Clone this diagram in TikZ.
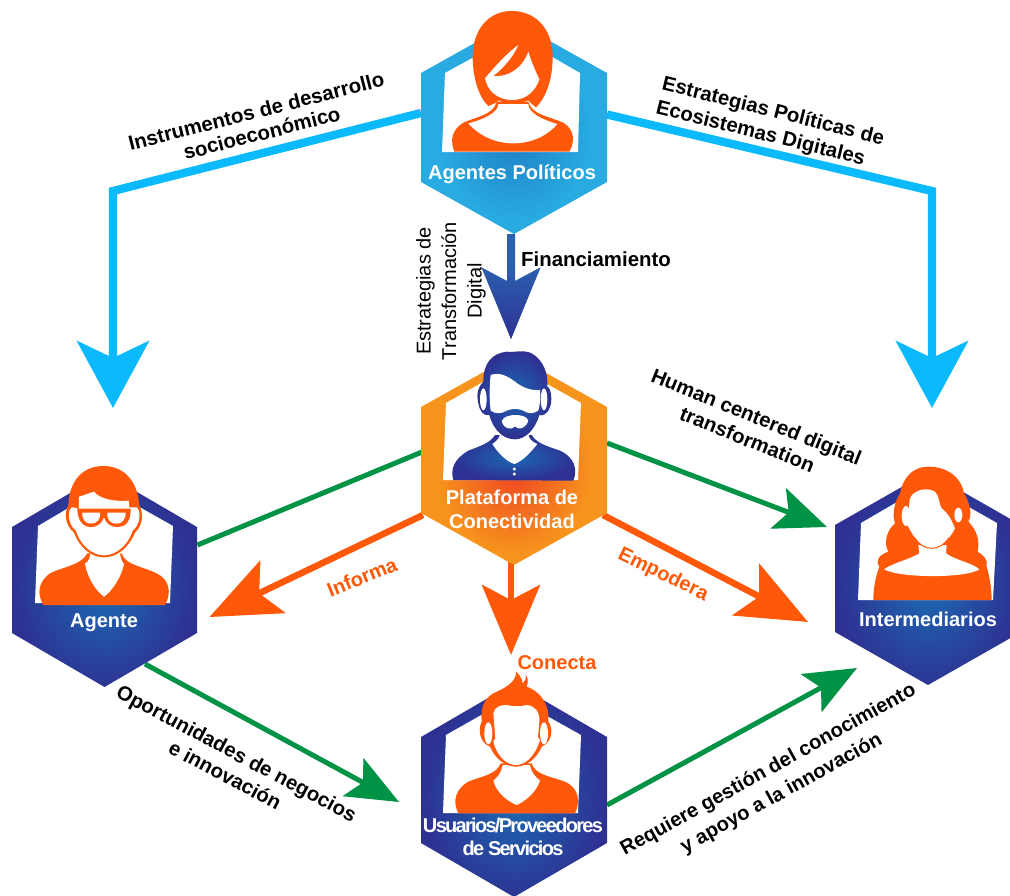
\documentclass[tikz,border=0pt]{standalone}
\usepackage{fontspec}
\setmainfont{Liberation Sans}
\usetikzlibrary{arrows.meta}
\definecolor{cyanline}{HTML}{0ABAFD}
\definecolor{orangeline}{HTML}{FF5808}
\definecolor{greenline}{HTML}{009245}
\definecolor{navyE}{HTML}{2E3192}
\definecolor{navyC}{HTML}{1C68B0}
\definecolor{skyE}{HTML}{29ABE2}
\definecolor{skyC}{HTML}{1E7FC2}
\definecolor{ambE}{HTML}{F7941D}
\definecolor{ambC}{HTML}{EF4523}
\definecolor{midblue}{HTML}{2B62B0}
\pgfdeclareradialshading{navyrad}{\pgfpoint{0bp}{-3bp}}{color(0bp)=(navyC); color(25bp)=(navyE); color(50bp)=(navyE)}
\pgfdeclareradialshading{skyrad}{\pgfpoint{0bp}{-2bp}}{color(0bp)=(skyC); color(21bp)=(skyE); color(50bp)=(skyE)}
\pgfdeclareradialshading{amberrad}{\pgfpoint{0bp}{-2.5bp}}{color(0bp)=(ambC); color(21bp)=(ambE); color(50bp)=(ambE)}
\pgfdeclareradialshading{manrad}{\pgfpoint{0bp}{0bp}}{color(0bp)=(navyC); color(24bp)=(navyE); color(50bp)=(navyE)}
\pgfdeclareverticalshading{downblue}{100bp}{color(0bp)=(navyE); color(25bp)=(navyE); color(62bp)=(midblue); color(100bp)=(midblue)}
\tikzset{
  hexbox/.style={inner sep=0pt,outer sep=0pt,minimum width=186pt},
  bigblue/.style={line width=8.3pt,cyanline,line join=miter,-{Stealth[length=67pt,width=72pt,inset=17pt]}},
  midorange/.style={line width=6.5pt,orangeline,-{Stealth[length=70pt,width=58pt,inset=15pt]}},
  thingreen/.style={line width=5pt,greenline,-{Stealth[length=52pt,width=43pt,inset=11pt]}},
  plaingreen/.style={line width=5pt,greenline},
  labelblack/.style={font=\fontsize{20.3}{24.5}\selectfont\bfseries,text=black,inner sep=0pt,align=center},
  labelthin/.style={font=\fontsize{20}{25.5}\selectfont,text=black,inner sep=0pt,align=center},
  labelorange/.style={font=\fontsize{20}{24}\selectfont\bfseries,text=orangeline,inner sep=0pt},
  labelwhite/.style={font=\fontsize{20}{24.5}\selectfont\bfseries,text=white,inner sep=0pt,align=center},
  figure/.style={x=0.33333pt,y=-0.33333pt},
}
\begin{document}
\begin{tikzpicture}[x=1pt,y=-1pt]
\useasboundingbox (0,0) rectangle (1010,895);
% invisible frames of the hexagons
\node[hexbox,minimum height=213pt] (pol) at (514,127.5) {};
\node[hexbox,minimum height=210pt] (plat) at (514,460) {};
\node[hexbox,minimum height=214pt] (agente) at (104.5,580) {};
\node[hexbox,minimum height=213pt] (inter) at (928,578.5) {};
\node[hexbox,minimum height=214pt] (usu) at (514,790) {};
\coordinate (cornerL) at (113,191);
\coordinate (cornerR) at (932,191);
% connectors
\draw[bigblue] ([shift={(0,-14.5)}]pol.west) -- (cornerL) -- ([shift={(8.5,-65)}]agente.north);
\draw[bigblue] ([shift={(0,-13)}]pol.east) -- (cornerR) -- ([shift={(4,-64)}]inter.north);
\draw[midblue,line width=7.5pt,-{Stealth[length=71pt,width=58pt,inset=15pt]}] ([shift={(-3,0)}]pol.south) -- ([shift={(-3,-16)}]plat.north);
\shade[shading=downblue] (482,268) -- (507,283) -- (507,234) -- (515,234) -- (515,283) -- (540,268) -- (511,339) -- cycle;
\draw[plaingreen] ([shift={(1,-8)}]plat.west) -- ([shift={(0,-35)}]agente.east);
\draw[midorange] ([shift={(2,55)}]plat.west) -- ([shift={(12,37)}]agente.east);
\draw[thingreen] ([shift={(0,-17)}]plat.east) -- ([shift={(-8,-51.5)}]inter.west);
\draw[midorange] ([shift={(-4,55)}]plat.east) -- ([shift={(-27,43.5)}]inter.west);
\draw[midorange] ([shift={(-3,-10)}]plat.south) -- ([shift={(-3,-28)}]usu.north);
\draw[thingreen] ([shift={(40.5,-23)}]agente.south) -- ([shift={(-22,12)}]usu.west);
\draw[thingreen] ([shift={(0,15)}]usu.east) -- ([shift={(-71,-17)}]inter.south);
% hexagon plates and windows
\shade[shading=skyrad] (421,73) -- (514,21) -- (607,73) -- (607,182) -- (514,234) -- (421,182) -- cycle;
\fill[white] (445,73) -- (514,35) -- (580,73) -- (578,152) -- (442,152) -- cycle;
\shade[shading=amberrad] (421,407) -- (514,355) -- (607,407) -- (607,513) -- (514,565) -- (421,513) -- cycle;
\fill[white] (446,403) -- (513,365) -- (581,403) -- (578,480) -- (443,480) -- cycle;
\shade[shading=navyrad] (12,527) -- (104.5,473) -- (197,527) -- (197,633) -- (104.5,687) -- (12,633) -- cycle;
\fill[white] (38,526) -- (104,487) -- (173,526) -- (170,603) -- (35,603) -- cycle;
\shade[shading=navyrad] (835,525) -- (928,472) -- (1021,525) -- (1021,632) -- (928,685) -- (835,632) -- cycle;
\fill[white] (861,523) -- (928,484) -- (997,523) -- (993,600) -- (858,600) -- cycle;
\shade[shading=navyrad] (421,737) -- (514,683) -- (607,737) -- (607,843) -- (514,897) -- (421,843) -- cycle;
\fill[white] (446,735) -- (513,697) -- (581,735) -- (578,813) -- (443,813) -- cycle;
% figure: Agentes Politicos
\begin{scope}[figure,shift={(400pt,0pt)}]
\fill[orangeline] (163,455) .. controls (150,420) and (155,390) .. (190,368) .. controls (230,350) and (280,345) .. (290,305) -- (385,305) .. controls (395,345) and (450,350) .. (490,368) .. controls (525,390) and (525,425) .. (508,455) -- cycle;
\fill[white] (205,370) .. controls (245,360) and (295,340) .. (295,312) -- (385,312) .. controls (385,340) and (430,360) .. (472,372) .. controls (440,410) and (390,430) .. (340,430) .. controls (290,430) and (240,410) .. (205,370) -- cycle;
\fill[orangeline] (335,33) .. controls (410,33) and (458,90) .. (458,170) .. controls (458,235) and (440,290) .. (408,322) .. controls (398,314) and (390,308) .. (385,301) .. controls (360,312) and (320,312) .. (295,301) .. controls (290,308) and (278,313) .. (265,318) .. controls (235,290) and (218,230) .. (218,170) .. controls (218,90) and (265,33) .. (335,33) -- cycle;
\fill[white] (255,235) .. controls (262,270) and (290,300) .. (337,300) .. controls (380,300) and (408,270) .. (418,238) .. controls (405,210) and (392,180) .. (385,155) .. controls (370,200) and (330,232) .. (280,228) .. controls (310,205) and (340,170) .. (355,135) .. controls (320,160) and (280,205) .. (255,235) -- cycle;
\end{scope}
% figure: Plataforma
\begin{scope}[figure,shift={(400pt,-340pt)}]
\shade[shading=manrad] (160,420) .. controls (150,385) and (165,355) .. (205,332) .. controls (240,318) and (270,310) .. (285,285) -- (395,285) .. controls (410,310) and (440,318) .. (480,332) .. controls (520,350) and (535,385) .. (520,422) -- cycle;
\fill[white] (277,312) .. controls (295,300) and (300,290) .. (300,280) -- (385,280) .. controls (385,295) and (395,305) .. (412,312) .. controls (390,340) and (365,365) .. (343,372) .. controls (320,365) and (295,340) .. (277,312) -- cycle;
\fill[white] (343,387) circle[radius=5];
\fill[white] (343,402) circle[radius=5];
\shade[shading=manrad] (250,125) .. controls (250,70) and (275,40) .. (320,35) .. controls (345,38) and (370,28) .. (395,40) .. controls (430,60) and (445,100) .. (442,140) .. controls (455,145) and (458,190) .. (448,205) .. controls (440,225) and (425,228) .. (418,225) .. controls (405,270) and (375,298) .. (345,298) .. controls (310,298) and (280,270) .. (268,225) .. controls (250,228) and (240,215) .. (235,190) .. controls (228,160) and (235,140) .. (250,125) -- cycle;
\fill[white] (250,178) ellipse[x radius=10,y radius=33];
\fill[white] (432,178) ellipse[x radius=10,y radius=33];
\fill[white] (272,105) .. controls (300,95) and (325,110) .. (345,125) .. controls (370,145) and (395,152) .. (420,150) .. controls (422,175) and (420,195) .. (415,212) .. controls (400,222) and (385,222) .. (370,212) .. controls (355,205) and (335,205) .. (320,212) .. controls (305,222) and (285,222) .. (272,212) .. controls (268,180) and (268,140) .. (272,105) -- cycle;
\fill[white] (305,243) .. controls (310,228) and (335,225) .. (345,225) .. controls (360,225) and (383,228) .. (385,243) .. controls (380,258) and (365,268) .. (355,265) .. controls (350,258) and (340,258) .. (335,265) .. controls (320,268) and (308,258) .. (305,243) -- cycle;
\end{scope}
% figure: Agente
\begin{scope}[figure,shift={(0pt,-450pt)}]
\fill[orangeline] (130,465) .. controls (110,430) and (115,395) .. (150,370) .. controls (190,350) and (245,345) .. (262,310) -- (365,310) .. controls (375,345) and (430,350) .. (470,370) .. controls (510,390) and (515,430) .. (495,465) -- cycle;
\fill[white] (255,340) .. controls (268,335) and (270,320) .. (272,305) -- (360,305) .. controls (360,320) and (365,335) .. (372,342) .. controls (365,380) and (335,425) .. (312,440) .. controls (290,425) and (262,385) .. (255,340) -- cycle;
\fill[orangeline] (310,48) .. controls (370,48) and (412,90) .. (418,165) .. controls (430,190) and (430,225) .. (405,248) .. controls (385,295) and (350,322) .. (312,322) .. controls (275,322) and (240,295) .. (222,248) .. controls (195,225) and (192,190) .. (205,165) .. controls (208,90) and (250,48) .. (310,48) -- cycle;
\fill[white] (237,140) -- (282,125) .. controls (300,148) and (345,155) .. (386,152) -- (388,172) .. controls (395,175) and (405,170) .. (410,172) .. controls (425,185) and (420,225) .. (398,242) .. controls (382,290) and (345,316) .. (312,316) .. controls (280,316) and (243,290) .. (228,242) .. controls (205,225) and (200,185) .. (215,172) .. controls (222,170) and (232,175) .. (237,178) -- cycle;
\fill[orangeline] (232,176) -- (392,176) .. controls (392,205) and (385,231) .. (350,231) .. controls (330,231) and (318,218) .. (312,202) .. controls (305,218) and (295,231) .. (272,231) .. controls (245,231) and (232,205) .. (232,176) -- cycle;
\fill[white] (247,188) -- (300,188) .. controls (302,210) and (290,221) .. (272,221) .. controls (255,221) and (245,205) .. (247,188) -- cycle;
\fill[white] (322,188) -- (377,188) .. controls (378,205) and (368,221) .. (350,221) .. controls (332,221) and (320,210) .. (322,188) -- cycle;
\end{scope}
% figure: Intermediarios
\begin{scope}[figure,shift={(820pt,-450pt)}]
\fill[orangeline] (325,50) .. controls (280,50) and (250,80) .. (240,130) .. controls (225,155) and (215,190) .. (225,220) .. controls (200,240) and (190,280) .. (205,305) .. controls (175,315) and (165,335) .. (178,350) .. controls (165,385) and (160,420) .. (160,450) -- (515,450) .. controls (515,420) and (510,385) .. (500,350) .. controls (505,330) and (490,315) .. (473,305) .. controls (480,270) and (470,240) .. (445,215) .. controls (460,190) and (445,150) .. (432,130) .. controls (425,85) and (385,50) .. (325,50) -- cycle;
\fill[white] (192,358) .. controls (215,340) and (270,328) .. (298,310) -- (295,285) -- (380,285) -- (378,310) .. controls (405,330) and (460,340) .. (478,358) .. controls (440,385) and (240,385) .. (192,358) -- cycle;
\fill[white] (270,145) .. controls (280,120) and (320,110) .. (345,125) .. controls (360,140) and (355,160) .. (365,175) .. controls (385,190) and (395,210) .. (405,235) .. controls (385,275) and (360,293) .. (335,293) .. controls (305,293) and (285,270) .. (262,225) .. controls (268,200) and (265,170) .. (270,145) -- cycle;
\draw[orangeline,line width=1pt] (283,262) .. controls (298,285) and (315,295) .. (335,295) .. controls (355,295) and (372,285) .. (388,262);
\fill[white] (258,198) ellipse[x radius=13,y radius=30];
\fill[white] (415,195) ellipse[x radius=12,y radius=22];
\end{scope}
% figure: Usuarios
\begin{scope}[figure,shift={(410pt,-650pt)}]
\fill[orangeline] (145,490) .. controls (125,450) and (140,415) .. (175,395) .. controls (215,378) and (258,375) .. (272,340) -- (365,340) .. controls (375,375) and (425,380) .. (465,395) .. controls (510,415) and (510,460) .. (495,490) -- cycle;
\fill[white] (250,392) .. controls (265,380) and (275,365) .. (278,345) -- (360,345) .. controls (362,365) and (375,380) .. (390,392) .. controls (380,425) and (345,455) .. (320,465) .. controls (295,455) and (260,430) .. (250,392) -- cycle;
\fill[orangeline] (260,125) .. controls (295,110) and (320,90) .. (318,65) .. controls (335,80) and (338,95) .. (337,100) .. controls (345,95) and (350,85) .. (347,72) .. controls (358,90) and (352,105) .. (350,110) .. controls (395,125) and (420,170) .. (415,215) .. controls (430,235) and (428,275) .. (395,290) .. controls (380,325) and (350,350) .. (318,350) .. controls (285,350) and (255,325) .. (240,290) .. controls (205,275) and (205,235) .. (215,215) .. controls (210,170) and (225,140) .. (260,125) -- cycle;
\fill[white] (235,250) ellipse[x radius=12,y radius=33];
\fill[white] (402,250) ellipse[x radius=12,y radius=33];
\fill[white] (250,190) .. controls (255,170) and (270,165) .. (290,165) .. controls (310,170) and (335,170) .. (350,165) .. controls (375,168) and (390,185) .. (388,215) -- (384,262) -- (390,270) .. controls (375,320) and (345,345) .. (318,345) .. controls (290,345) and (262,320) .. (250,275) -- (256,265) -- cycle;
\end{scope}
% hexagon labels
\node[labelwhite] (polT) at (512,174.5) {Agentes Políticos};
\node[labelwhite] (platT) at (512,509.5) {Plataforma de\\Conectividad};
\node[labelwhite] (agenteT) at (104,623) {Agente};
\node[labelwhite] (interT) at (928,619) {Intermediarios};
\node[labelwhite,font=\fontsize{20}{23}\selectfont\bfseries\addfontfeatures{LetterSpace=-8.5}] (usuT) at (513,837) {Usuarios/Proveedores\\de Servicios};
% connector labels
\node[labelblack,rotate=14.3,font=\fontsize{20.4}{22.5}\selectfont\bfseries] (l1) at (259,122) {Instrumentos de desarrollo\\socioeconómico};
\node[labelblack,rotate=-14,align=left] (l2) at (770,124) {Estrategias Políticas de\\Ecosistemas Digitales};
\node[labelblack,anchor=west,font=\fontsize{20.4}{24}\selectfont\bfseries] (l3) at (521,259) {Financiamiento};
\node[labelthin,rotate=90] (l4) at (451,291) {Estrategias de\\Transformación\\Digital};
\node[labelblack,rotate=-22] (l5) at (752,428) {Human centered digital\\transformation};
\node[labelorange,rotate=22] (l6) at (362,577) {Informa};
\node[labelorange,rotate=-26] (l7) at (663,575) {Empodera};
\node[labelorange] (l8) at (557,663) {Conecta};
\node[labelblack,rotate=-28] (l9) at (231,764) {Oportunidades de negocios\\e innovación};
\node[labelblack,rotate=29,font=\fontsize{20.1}{27}\selectfont\bfseries] (l10) at (775,782) {Requiere gestión del conocimiento\\y apoyo a la innovación};
\end{tikzpicture}
\end{document}
